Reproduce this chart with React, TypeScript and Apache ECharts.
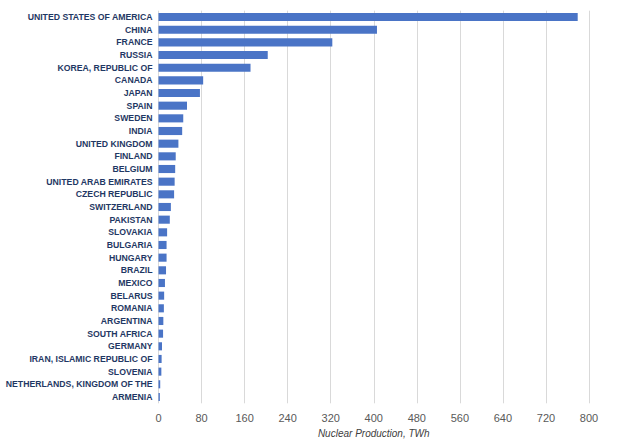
import React, { useEffect, useRef } from "react";
import * as echarts from "echarts";

const countries: string[] = [
  "UNITED STATES OF AMERICA",
  "CHINA",
  "FRANCE",
  "RUSSIA",
  "KOREA, REPUBLIC OF",
  "CANADA",
  "JAPAN",
  "SPAIN",
  "SWEDEN",
  "INDIA",
  "UNITED KINGDOM",
  "FINLAND",
  "BELGIUM",
  "UNITED ARAB EMIRATES",
  "CZECH REPUBLIC",
  "SWITZERLAND",
  "PAKISTAN",
  "SLOVAKIA",
  "BULGARIA",
  "HUNGARY",
  "BRAZIL",
  "MEXICO",
  "BELARUS",
  "ROMANIA",
  "ARGENTINA",
  "SOUTH AFRICA",
  "GERMANY",
  "IRAN, ISLAMIC REPUBLIC OF",
  "SLOVENIA",
  "NETHERLANDS, KINGDOM OF THE",
  "ARMENIA",
];

const productionTWh: number[] = [
  779, 406, 323, 203, 171, 83, 77, 53, 46, 44, 37, 32, 31, 30, 29, 23, 21, 16,
  15, 15, 14, 12, 10.5, 10, 9, 8.5, 6.5, 5.8, 5.3, 3.2, 2.5,
];

const xTicks = { min: 0, max: 800, interval: 80 };
const axisTitle = "Nuclear Production, TWh";

export default function App() {
  const ref = useRef<HTMLDivElement>(null);
  useEffect(() => {
    document.body.style.margin = "0";
    if (!ref.current) return;
    const chart = echarts.init(ref.current, null, { renderer: "svg" });
    chart.setOption({
      animation: false,
      backgroundColor: "#ffffff",
      grid: {
        left: 158.5,
        right: 35,
        top: 10.7,
        bottom: 35.7,
        containLabel: false,
        outerBoundsMode: "none",
      },
      xAxis: {
        type: "value",
        min: xTicks.min,
        max: xTicks.max,
        interval: xTicks.interval,
        axisLine: { show: false },
        axisTick: { show: false },
        splitLine: { show: true, lineStyle: { color: "#d9d9d9", width: 1 } },
        axisLabel: {
          color: "#595959",
          fontSize: 11,
          fontFamily: "Liberation Sans, Arial, sans-serif",
          margin: 9,
        },
        name: axisTitle,
        nameLocation: "middle",
        nameGap: 25,
        nameTextStyle: {
          color: "#404040",
          fontSize: 10,
          fontStyle: "italic",
          fontFamily: "Liberation Sans, Arial, sans-serif",
        },
      },
      yAxis: {
        type: "category",
        data: countries,
        inverse: true,
        axisLine: { show: false },
        axisTick: { show: false },
        splitLine: { show: false },
        axisLabel: {
          color: "#1f3864",
          fontSize: 8.7,
          fontWeight: "bold",
          fontFamily: "Liberation Sans, Arial, sans-serif",
          margin: 6,
          interval: 0,
        },
      },
      series: [
        {
          type: "bar",
          data: productionTWh,
          barWidth: "64%",
          itemStyle: { color: "#4a74c6" },
        },
      ],
    });
    return () => chart.dispose();
  }, []);
  return <div ref={ref} style={{ width: 624, height: 439 }} />;
}
